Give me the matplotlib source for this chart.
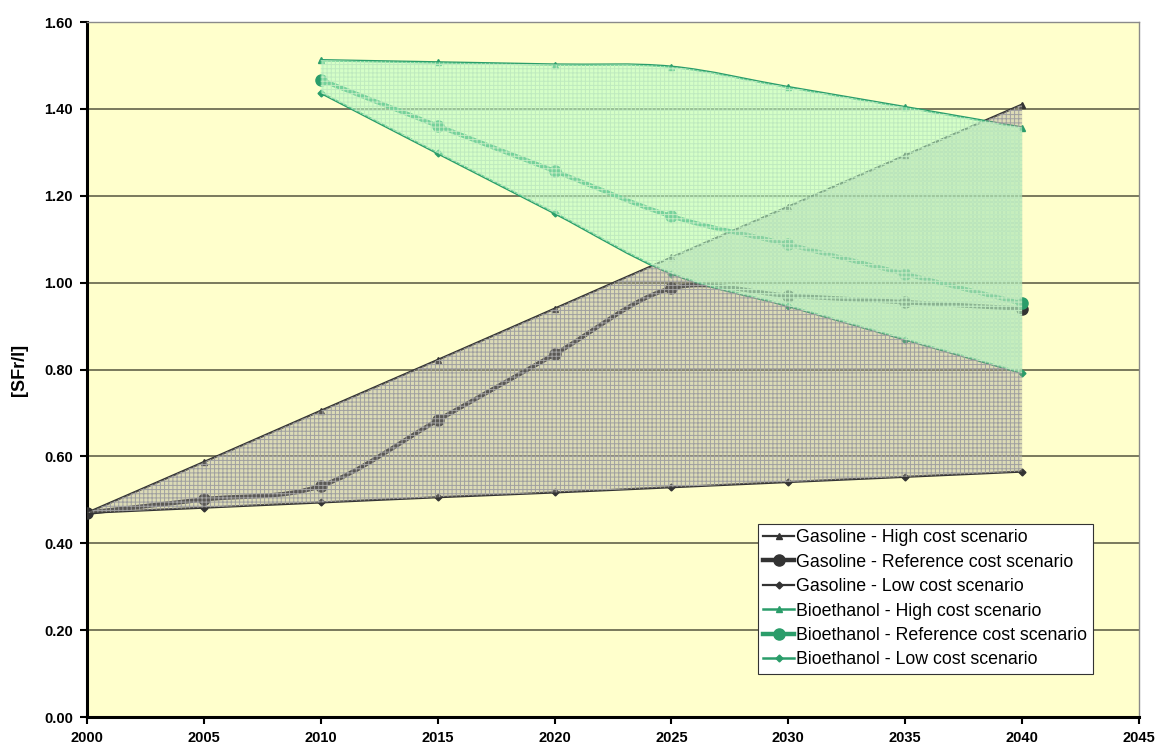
import numpy as np
import matplotlib
matplotlib.use("Agg")
import matplotlib.pyplot as plt
from matplotlib.path import Path
from matplotlib.patches import PathPatch
from matplotlib.lines import Line2D

plt.rcParams['font.family'] = ['Liberation Sans', 'DejaVu Sans']
plt.rcParams['hatch.linewidth'] = 0.7

# Fuel cost projections [SFr/l]
years_gas = [2000, 2005, 2010, 2015, 2020, 2025, 2030, 2035, 2040]
gas_high = [0.470, 0.587, 0.705, 0.822, 0.940, 1.058, 1.175, 1.293, 1.410]
gas_ref = [0.470, 0.501, 0.532, 0.683, 0.835, 0.987, 0.970, 0.955, 0.940]
gas_low = [0.470, 0.482, 0.494, 0.506, 0.517, 0.529, 0.541, 0.553, 0.565]

years_bio = [2010, 2015, 2020, 2025, 2030, 2035, 2040]
bio_high = [1.512, 1.507, 1.502, 1.497, 1.450, 1.404, 1.357]
bio_ref = [1.467, 1.361, 1.257, 1.153, 1.088, 1.020, 0.952]
bio_low = [1.437, 1.298, 1.160, 1.021, 0.946, 0.869, 0.792]

x_ticks = [2000, 2005, 2010, 2015, 2020, 2025, 2030, 2035, 2040, 2045]
y_ticks = [0.0, 0.2, 0.4, 0.6, 0.8, 1.0, 1.2, 1.4, 1.6]

labels = ["Gasoline - High cost scenario",
          "Gasoline - Reference cost scenario",
          "Gasoline - Low cost scenario",
          "Bioethanol - High cost scenario",
          "Bioethanol - Reference cost scenario",
          "Bioethanol - Low cost scenario"]

GAS = '#333333'
BIO = '#2a9d6a'


def smooth_segments(xs, ys):
    """Cubic Bezier vertices passing through every data point (smoothed line)."""
    pts = np.column_stack([xs, ys]).astype(float)
    n = len(pts)
    verts = [pts[0]]
    codes = [Path.MOVETO]
    for i in range(n - 1):
        p0 = pts[i - 1] if i > 0 else pts[i]
        p1, p2 = pts[i], pts[i + 1]
        p3 = pts[i + 2] if i + 2 < n else pts[i + 1]
        verts += [p1 + (p2 - p0) / 6.0, p2 - (p3 - p1) / 6.0, p2]
        codes += [Path.CURVE4] * 3
    return verts, codes


def band_path(xs, upper, lower):
    vu, cu = smooth_segments(xs, upper)
    vl, cl = smooth_segments(xs[::-1], lower[::-1])
    verts = vu + [vl[0]] + vl[1:] + [vu[0]]
    codes = cu + [Path.LINETO] + cl[1:] + [Path.CLOSEPOLY]
    return Path(verts, codes)


fig = plt.figure(figsize=(11.57, 7.49), dpi=100)
ax = fig.add_axes([0.0752, 0.0427, 0.9092, 0.9279])
ax.set_facecolor('#ffffcc')

# series lines
series = [
    (years_gas, gas_high, GAS, 1.6, '^', 5),
    (years_gas, gas_ref, GAS, 3.2, 'o', 8),
    (years_gas, gas_low, GAS, 1.6, 'D', 3.5),
    (years_bio, bio_high, BIO, 1.8, '^', 5),
    (years_bio, bio_ref, BIO, 3.2, 'o', 8),
    (years_bio, bio_low, BIO, 1.8, 'D', 3.5),
]
handles = []
for (xs, ys, col, lw, mk, ms), lab in zip(series, labels):
    v, c = smooth_segments(xs, ys)
    ax.add_patch(PathPatch(Path(v, c), facecolor='none', edgecolor=col,
                           lw=lw, zorder=3, capstyle='round', joinstyle='round'))
    ax.plot(xs, ys, linestyle='none', marker=mk, ms=ms, color=col, zorder=3)
    handles.append(Line2D([], [], color=col, lw=lw, marker=mk, ms=ms))

# gasoline cost band
gx = np.array(years_gas, float)
gpath = band_path(gx, np.array(gas_high), np.array(gas_low))
ax.add_patch(PathPatch(gpath, facecolor='#a09c90', alpha=0.36, edgecolor='none', zorder=4))
ax.add_patch(PathPatch(gpath, facecolor='none', edgecolor='#a0a0a0', hatch='++++',
                       lw=0, zorder=4.1))

# bioethanol cost band
bx = np.array(years_bio, float)
bpath = band_path(bx, np.array(bio_high), np.array(bio_low))
ax.add_patch(PathPatch(bpath, facecolor='#b4ffc4', alpha=0.55, edgecolor='none', zorder=5))
ax.add_patch(PathPatch(bpath, facecolor='none', edgecolor='#bfeabf', hatch='++++',
                       lw=0, zorder=5.1))

ax.set_xlim(2000, 2045)
ax.set_ylim(0, 1.6)
ax.set_xticks(x_ticks)
ax.set_yticks(y_ticks)
ax.set_xticklabels([str(t) for t in x_ticks], fontsize=10.5, fontweight='bold')
ax.set_yticklabels([f"{t:.2f}" for t in y_ticks], fontsize=10.5, fontweight='bold')
ax.tick_params(axis='both', direction='out', length=5, width=1.5, color='black')
ax.tick_params(axis='y', pad=5)
ax.tick_params(axis='x', pad=5)

ax.grid(axis='y', color='#55553f', lw=1.1, zorder=1)
ax.set_axisbelow(True)

for side in ('left', 'bottom'):
    ax.spines[side].set_linewidth(2.2)
    ax.spines[side].set_color('black')
for side in ('top', 'right'):
    ax.spines[side].set_linewidth(1.0)
    ax.spines[side].set_color('#8a8a8a')

ax.set_ylabel('[SFr/l]', fontsize=13, fontweight='bold', labelpad=12)

leg = ax.legend(handles, labels, loc='upper left', bbox_to_anchor=(0.638, 0.278),
                borderaxespad=0, fontsize=12.8, handlelength=1.7, handletextpad=0.15,
                labelspacing=0.42, borderpad=0.3, frameon=True, fancybox=False,
                framealpha=1, edgecolor='#333333')
leg.get_frame().set_linewidth(0.8)
leg.set_zorder(10)

fig.savefig('out.png', dpi=100, facecolor='white')
